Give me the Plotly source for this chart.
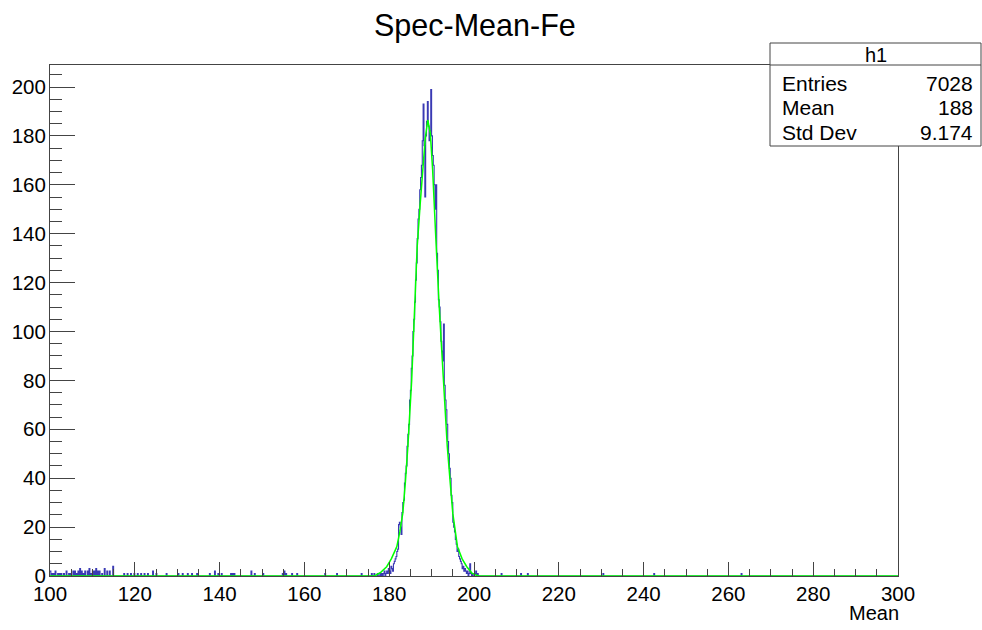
import numpy as np
import plotly.graph_objects as go

# ---------------- data ----------------
title_text = "Spec-Mean-Fe"
x_title = "Mean"
hist_min, hist_max, n_bins = 100.0, 300.0, 1000

# bins of the main peak, starting at 177.0, width 0.2
peak_start = 177.0
peak_counts = [
    0, 1, 0, 0, 1, 0, 1, 0, 1, 2,
    0, 1, 2, 1, 3, 2, 1, 4, 3, 2,
    5, 6, 7, 8, 10, 11, 21, 22, 20, 17,
    26, 30, 31, 38, 42, 45, 53, 58, 62, 72,
    76, 85, 90, 100, 105, 112, 121, 128, 138, 146,
    150, 158, 163, 168, 178, 193, 176, 155, 180, 186,
    194, 184, 178, 182, 199, 180, 172, 168, 160, 150,
    160, 132, 125, 113, 110, 104, 96, 92, 88, 103,
    78, 72, 68, 62, 55, 50, 44, 40, 33, 30,
    22, 20, 18, 15, 13, 10, 11, 8, 7, 6,
    5, 3, 4, 2, 3, 2, 1, 2, 0, 1,
    5, 1, 0, 1, 0, 0, 1, 2, 0, 1,
]

# scattered background bins (bin centre, count)
noise_x = [100.1, 100.5, 100.9, 101.3, 101.9, 102.3, 102.7, 103.3, 103.9, 104.5,
           104.9, 105.5, 105.9, 106.3, 106.7, 107.1, 107.5, 107.9, 108.3, 108.9,
           109.3, 109.7, 110.1, 110.5, 110.9, 111.3, 111.7, 112.3, 112.9, 113.5,
           114.1, 114.9, 117.5, 118.3, 119.1, 119.9, 120.7, 121.5, 122.3, 123.1,
           124.3, 125.1, 127.5, 130.3, 131.3, 132.5, 133.5, 134.7, 137.7, 138.9,
           139.7, 140.5, 142.7, 143.1, 143.5, 147.5, 148.3, 150.3, 154.9, 155.3,
           155.7, 157.1, 158.3, 164.9, 167.7, 173.5, 175.9, 176.5, 206.5, 211.1,
           212.7, 230.5, 242.5, 263.1]
noise_n = [2, 1, 1, 2, 1, 1, 1, 1, 2, 1,
           1, 2, 2, 1, 2, 3, 2, 1, 2, 2,
           3, 1, 2, 2, 3, 2, 2, 1, 3, 2,
           2, 4, 1, 1, 1, 1, 1, 1, 1, 1,
           2, 1, 1, 1, 1, 1, 1, 1, 1, 2,
           1, 1, 1, 1, 1, 2, 1, 1, 1, 2,
           1, 1, 1, 1, 1, 1, 1, 1, 1, 1,
           1, 1, 1, 1]

# fitted curve, points
fit_x = [100, 176.5, 178.0, 179.4, 180.5, 181.8, 182.5, 183.2, 183.8, 184.4,
         185.3, 185.9, 186.6, 187.3, 187.9, 188.5, 189.1, 189.7, 190.25, 190.6,
         191.0, 191.8, 192.8, 193.7, 194.4, 195.0, 196.1, 197.2, 198.3, 199.5,
         201.0, 300]
fit_y = [0, 0, 1.5, 3.8, 7, 12, 18, 25.6, 38, 53,
         80, 107, 134.7, 152, 166, 179, 186.5, 181, 166, 155,
         138, 110, 80, 53, 38, 25.6, 12, 7, 3.8, 1.2,
         0, 0]

stats_name = "h1"
stats_labels = ["Entries", "Mean", "Std Dev"]
stats_values = ["7028", "188", "9.174"]

# ---------------- build histogram ----------------
bw = (hist_max - hist_min) / n_bins
counts = np.zeros(n_bins)
i0 = int(round((peak_start - hist_min) / bw))
for k, c in enumerate(peak_counts):
    counts[i0 + k] = c
for xc, c in zip(noise_x, noise_n):
    counts[int((xc - hist_min) / bw)] += c
edges = np.linspace(hist_min, hist_max, n_bins + 1)
yy = np.append(counts, counts[-1])

# ---------------- layout geometry ----------------
W, H = 982, 630
L, R, T, B = 50, 898, 65, 576
def px(x):
    return (x - L) / (R - L)
def py(y):
    return (B - y) / (B - T)

FONT = "Liberation Sans, Arial, Helvetica, sans-serif"
LINE = "#444444"

fig = go.Figure()
fig.add_trace(go.Scatter(x=edges, y=yy, mode="lines", line_shape="hv",
                         line=dict(color="#3a3ab4", width=1.1), hoverinfo="skip",
                         showlegend=False))
fig.add_trace(go.Scatter(x=fit_x, y=fit_y, mode="lines",
                         line=dict(color="#00ff00", width=1.5), hoverinfo="skip",
                         showlegend=False))

ymax = (B - T) / ((576 - 87) / 200.0)

fig.update_layout(
    width=W, height=H,
    margin=dict(l=L, r=W - R, t=T, b=H - B),
    paper_bgcolor="white", plot_bgcolor="white",
    font=dict(family=FONT, size=20, color="black"),
    showlegend=False,
    xaxis=dict(range=[hist_min, hist_max], showgrid=False, zeroline=False,
               showline=True, linecolor=LINE, linewidth=1, mirror=True,
               tickmode="linear", tick0=100, dtick=20,
               ticks="inside", ticklen=14, tickcolor=LINE, tickwidth=1,
               minor=dict(ticks="inside", ticklen=7, dtick=5, tickcolor=LINE, tickwidth=1),
               tickfont=dict(size=20.5), ticklabelstandoff=-1),
    yaxis=dict(range=[0, ymax], showgrid=False, zeroline=False,
               showline=True, linecolor=LINE, linewidth=1, mirror=True,
               tickmode="linear", tick0=0, dtick=20,
               ticks="inside", ticklen=25, tickcolor=LINE, tickwidth=1,
               minor=dict(ticks="inside", ticklen=12, dtick=5, tickcolor=LINE, tickwidth=1),
               tickfont=dict(size=20.5), ticklabelstandoff=-1),
)

ann = []
ann.append(dict(text=title_text, x=px(475), y=py(25), xref="paper", yref="paper",
                xanchor="center", yanchor="middle", showarrow=False,
                font=dict(size=30.5, family=FONT)))
ann.append(dict(text=x_title, x=1.0, y=py(613), xref="paper", yref="paper",
                xanchor="right", yanchor="middle", showarrow=False, xshift=3,
                font=dict(size=20, family=FONT)))

# stats box
bx0, bx1, by0, by1 = 770, 981, 43, 146
fig.add_shape(type="rect", xref="paper", yref="paper",
              x0=px(bx0), x1=px(bx1), y0=py(by1), y1=py(by0),
              line=dict(color=LINE, width=1), fillcolor="white", layer="above")
fig.add_shape(type="line", xref="paper", yref="paper",
              x0=px(bx0), x1=px(bx1), y0=py(65), y1=py(65),
              line=dict(color=LINE, width=1), layer="above")
ann.append(dict(text=stats_name, x=px(876), y=py(55), xref="paper", yref="paper",
                xanchor="center", yanchor="middle", showarrow=False,
                font=dict(size=20, family=FONT)))
row_y = [83, 107, 132]
for lab, val, ry in zip(stats_labels, stats_values, row_y):
    ann.append(dict(text=lab, x=px(780), y=py(ry), xref="paper", yref="paper",
                    xanchor="left", yanchor="middle", showarrow=False,
                    font=dict(size=21, family=FONT)))
    ann.append(dict(text=val, x=px(975), y=py(ry), xref="paper", yref="paper",
                    xanchor="right", yanchor="middle", showarrow=False,
                    font=dict(size=21, family=FONT)))
fig.update_layout(annotations=ann)

fig.write_html("out.html")
